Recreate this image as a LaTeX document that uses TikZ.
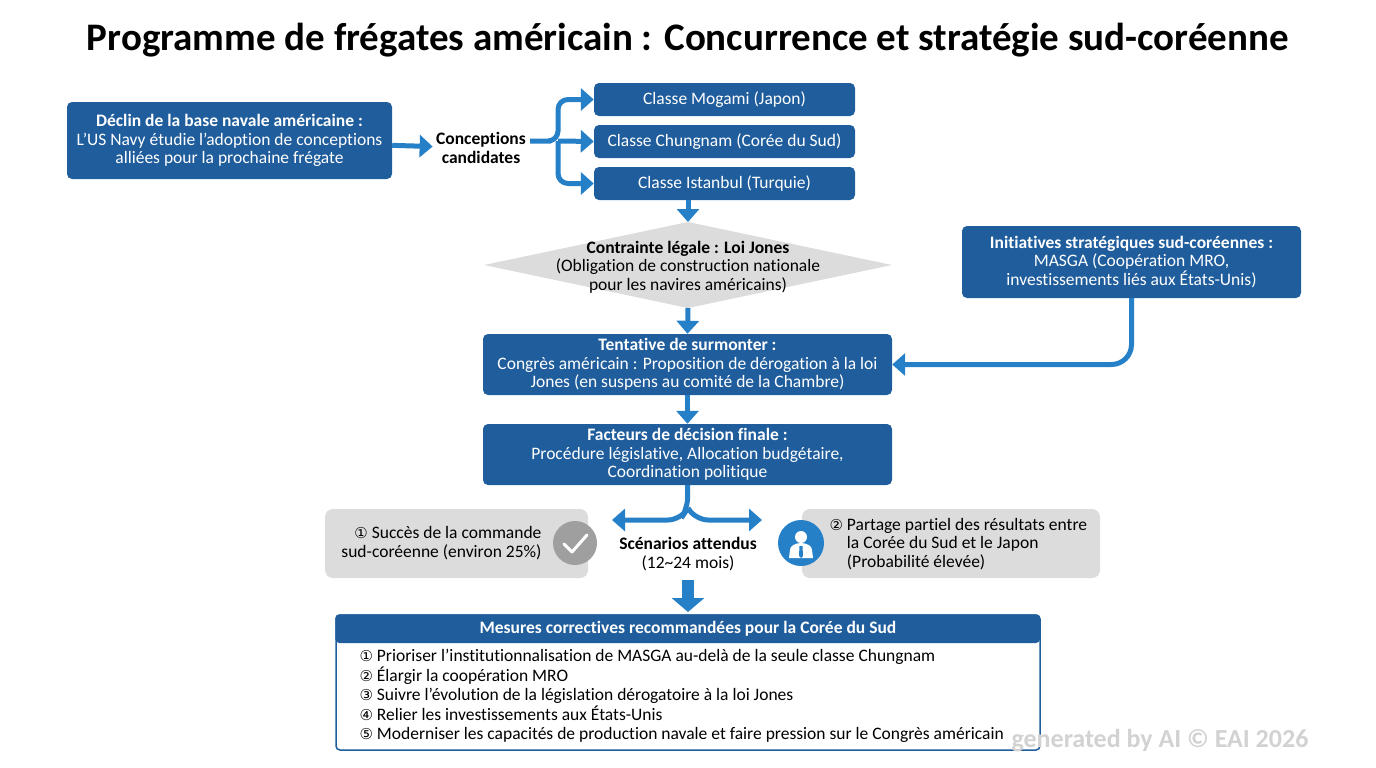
\documentclass[tikz,border=0pt]{standalone}
\usepackage{fontspec}
\setmainfont{Carlito}[Ligatures=NoCommon]
\newfontfamily\symf{DejaVu Sans}
\usetikzlibrary{positioning,shapes.geometric,arrows.meta}
\definecolor{navy}{HTML}{1F5D9C}
\definecolor{flow}{HTML}{2580C8}
\definecolor{pale}{HTML}{DCDCDC}
\newcommand{\cn}[1]{{\symf\fontsize{15}{15}\selectfont #1}}
\newcommand{\bodyfont}{\fontsize{17.5}{18.5}\selectfont}
\tikzset{
  txt/.style={font=\bodyfont},
  btxt/.style={font=\bodyfont\bfseries},
  blk/.style={txt, draw=none, fill=navy, text=white, rounded corners=5pt, align=center, inner sep=2pt},
  gry/.style={draw=none, fill=pale, rounded corners=8pt, inner sep=2pt},
  flw/.style={draw=flow, line width=5pt, -{Triangle[length=13pt,width=22pt]}},
}
\begin{document}
\begin{tikzpicture}[x=1pt,y=-1pt]
    \useasboundingbox (0,0) rectangle (1376,768);

    \node (title) at (688,40) {\fontsize{39}{42}\selectfont\bfseries Programme de frégates américain : Concurrence et stratégie sud-coréenne};

    \node[blk, minimum width=325pt, minimum height=77pt] (declin) at (229.5,140.5)
        {\textbf{Déclin de la base navale américaine :}\\L'US Navy étudie l'adoption de conceptions\\alliées pour la prochaine frégate};
    \node[btxt, align=center] (cand) at (481,148) {Conceptions\\candidates};

    \node[blk, minimum width=261pt, minimum height=33pt] (mogami) at (724.5,99.5) {Classe Mogami (Japon)};
    \node[blk, minimum width=261pt, minimum height=33pt] (chung)  at (724.5,141.5) {Classe Chungnam (Corée du Sud)};
    \node[blk, minimum width=261pt, minimum height=33pt] (ist)    at (724.5,183.5) {Classe Istanbul (Turquie)};
    \coordinate (istout) at (688,200);

    \fill[pale] (484,265) -- (688,222) -- (892,265) -- (688,308) -- cycle;
    \coordinate (jtop) at (688,222);
    \coordinate (jbot) at (688,308);
    \node[txt, align=center] (jones) at (688,267) {\textbf{Contrainte légale : Loi Jones}\\(Obligation de construction nationale\\pour les navires américains)};

    \node[blk, minimum width=339pt, minimum height=72pt] (init) at (1131.5,262)
        {\textbf{Initiatives stratégiques sud-coréennes :}\\MASGA (Coopération MRO,\\investissements liés aux États-Unis)};
    \node[blk, minimum width=409pt, minimum height=61pt] (tent) at (687.5,364.5)
        {\textbf{Tentative de surmonter :}\\Congrès américain : Proposition de dérogation à la loi\\Jones (en suspens au comité de la Chambre)};
    \node[blk, minimum width=409pt, minimum height=61pt] (fact) at (687.5,454.5)
        {\textbf{Facteurs de décision finale :}\\Procédure législative, Allocation budgétaire,\\Coordination politique};

    \node[gry, minimum width=263pt, minimum height=69pt] (succ) at (456.5,543.5) {};
    \node[txt, align=right, anchor=east] at (545,543) {\cn{①} Succès de la commande\\sud-coréenne (environ 25\%)};
    \node[circle, fill=gray!75, minimum size=44pt] (chk) at (575,543) {};
    \draw[white, line width=3pt, line cap=round, line join=round] (564,544) -- (572,552) -- (587,535);

    \node[gry, minimum width=298pt, minimum height=69pt] (part) at (951,543.5) {};
    \node[txt, align=left, anchor=west] at (826,544) {\cn{②} Partage partiel des résultats entre\\\phantom{\cn{②}} la Corée du Sud et le Japon\\\phantom{\cn{②}} (Probabilité élevée)};
    \node[circle, fill=flow, minimum size=46pt] (pers) at (801,543) {};
    \fill[white] (801,537) circle (6pt);
    \fill[white] (789,558) -- (790,550) arc (180:0:11pt and 7pt) -- (813,558) -- cycle;
    \fill[flow] (799.5,546) -- (802.5,546) -- (803,556) -- (801,558) -- (799,556) -- cycle;

    \node[txt, align=center] (scen) at (688,554) {\textbf{Scénarios attendus}\\(12\textasciitilde24 mois)};

    \node[draw=navy, line width=1.5pt, fill=white, rounded corners=4pt, minimum width=704pt, minimum height=135pt] (mes) at (688,682.5) {};
    \fill[navy, rounded corners=4pt] (mes.north west) rectangle (1040,643);
    \node[btxt, text=white] (meshead) at (688,629) {Mesures correctives recommandées pour la Corée du Sud};
    \node[anchor=north west, align=left, font=\fontsize{17.5}{19.5}\selectfont] (meslist) at (356,646) {%
        \cn{①} Prioriser l'institutionnalisation de MASGA au-delà de la seule classe Chungnam\\
        \cn{②} Élargir la coopération MRO\\
        \cn{③} Suivre l'évolution de la législation dérogatoire à la loi Jones\\
        \cn{④} Relier les investissements aux États-Unis\\
        \cn{⑤} Moderniser les capacités de production navale et faire pression sur le Congrès américain};

    % connectors
    \draw[flw] (declin) -- (cand);
    \coordinate (fork) at (541,141);
    \draw[flw, rounded corners=10pt] (530,141) -- (fork) -- (558,141) |- (mogami.west);
    \draw[flw] (558,141) -- (chung.west);
    \draw[flw, rounded corners=10pt] (558,141) |- (ist.west);
    \draw[flw] (istout) -- (jtop);
    \draw[flw] (jbot) -- (tent.north);
    \draw[flw] (tent.south) -- (fact.north);
    \draw[flw, rounded corners=20pt] (init.south) |- (tent.east);
    \draw[flw, rounded corners=12pt] (fact.south) -- (688,508) -- (680,520) -- (612,520);
    \draw[flw, rounded corners=12pt] (688,508) -- (696,520) -- (762,520);
    \draw[draw=flow, line width=12pt, -{Triangle[length=14pt,width=32pt]}] (688,580) -- (688,612);

    \node[font=\fontsize{26}{26}\selectfont\bfseries, text=gray!35] (wm) at (1160,741) {generated by AI © EAI 2026};
\end{tikzpicture}
\end{document}
